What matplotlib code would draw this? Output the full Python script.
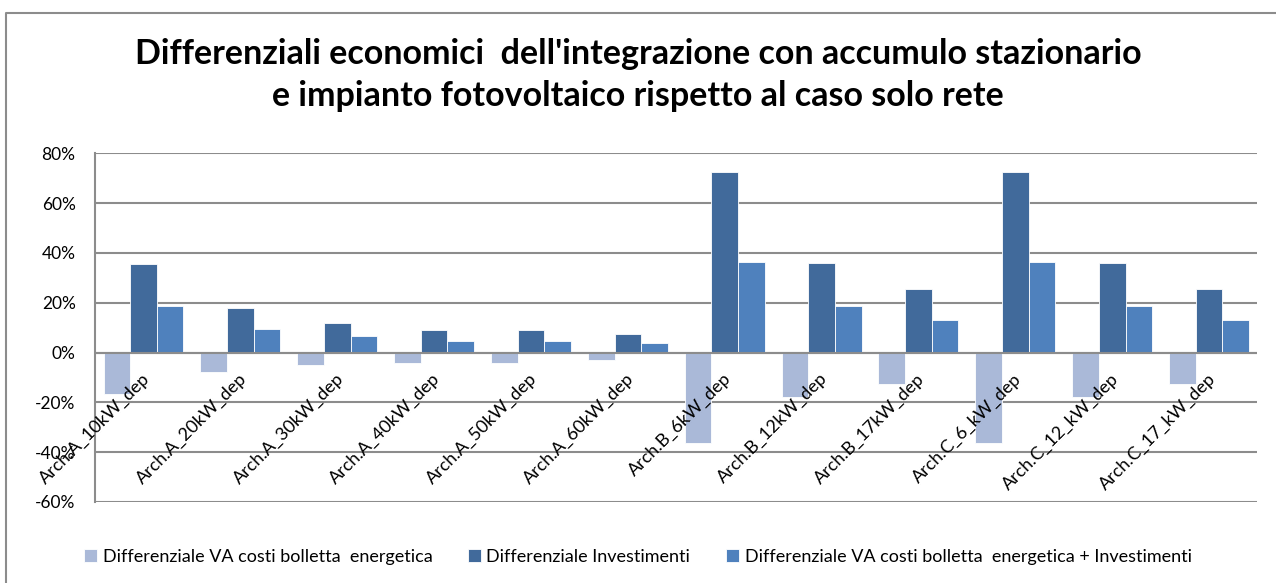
import numpy as np
import matplotlib.pyplot as plt
from matplotlib.lines import Line2D

plt.rcParams["font.family"] = ["Lato", "DejaVu Sans"]

categories = [
    "Arch.A_10kW_dep", "Arch.A_20kW_dep", "Arch.A_30kW_dep", "Arch.A_40kW_dep",
    "Arch.A_50kW_dep", "Arch.A_60kW_dep", "Arch.B_6kW_dep", "Arch.B_12kW_dep",
    "Arch.B_17kW_dep", "Arch.C_6_kW_dep", "Arch.C_12_kW_dep", "Arch.C_17_kW_dep",
]

va_bolletta = [-16.5, -8.0, -5.0, -4.0, -4.0, -3.0, -36.5, -18.0, -12.5, -36.5, -18.0, -12.5]
investimenti = [35.5, 18.0, 12.0, 9.0, 9.0, 7.5, 72.5, 36.0, 25.5, 72.5, 36.0, 25.5]
va_piu_invest = [18.5, 9.5, 6.5, 4.5, 4.5, 4.0, 36.5, 18.5, 13.0, 36.5, 18.5, 13.0]

series_names = [
    "Differenziale VA costi bolletta  energetica",
    "Differenziale Investimenti",
    "Differenziale VA costi bolletta  energetica + Investimenti",
]
colors = ["#AAB9D8", "#416A9B", "#4F81BD"]

fig = plt.figure(figsize=(12.76, 5.83), dpi=100)
ax = fig.add_axes([0.0745, 0.139, 0.911, 0.598])

x = np.arange(len(categories))
w = 0.275
for k, (vals, name, col) in enumerate(zip([va_bolletta, investimenti, va_piu_invest], series_names, colors)):
    ax.bar(x + (k - 1) * w, vals, width=w, color=col, edgecolor="white", linewidth=0.6,
           label=name, zorder=3)

ax.set_xlim(-0.5, len(categories) - 0.5)
ax.set_ylim(-60, 80)
ax.set_yticks(np.arange(-60, 81, 20))
ax.set_yticklabels([f"{v}%" for v in range(-60, 81, 20)], fontsize=12.5)
ax.yaxis.grid(True, color="#8c8c8c", linewidth=1.5, zorder=0)
ax.tick_params(axis="y", length=0, pad=14)
ax.set_xticks([])
for s in ["top", "right", "bottom"]:
    ax.spines[s].set_visible(False)
ax.spines["left"].set_color("#8c8c8c")
ax.spines["left"].set_linewidth(1.5)
ax.axhline(0, color="#8c8c8c", linewidth=1.5, zorder=4)

# category labels sit just under the zero line, like Excel's "next to axis"
for i, lab in enumerate(categories):
    ax.annotate(lab, xy=(i - 0.02, 0), xytext=(0, -13), textcoords="offset points",
                ha="right", va="top", rotation=45, rotation_mode="anchor",
                fontsize=13, zorder=5)

fig.text(0.5, 0.871, "Differenziali economici  dell'integrazione con accumulo stazionario\n"
         "e impianto fotovoltaico rispetto al caso solo rete",
         ha="center", va="center", fontsize=24.5, fontweight="bold", linespacing=1.4)

fig.legend(loc="center", bbox_to_anchor=(0.5, 0.045), ncol=3, frameon=False,
           fontsize=13, handlelength=0.7, handleheight=0.7, handletextpad=0.3,
           columnspacing=2.0)

fig.add_artist(Line2D([6 / 1276, 6 / 1276, 1.0], [0.0, 1 - 13 / 583, 1 - 13 / 583],
                      transform=fig.transFigure, color="#8c8c8c", linewidth=1.5))

fig.savefig("out.png", dpi=100)
